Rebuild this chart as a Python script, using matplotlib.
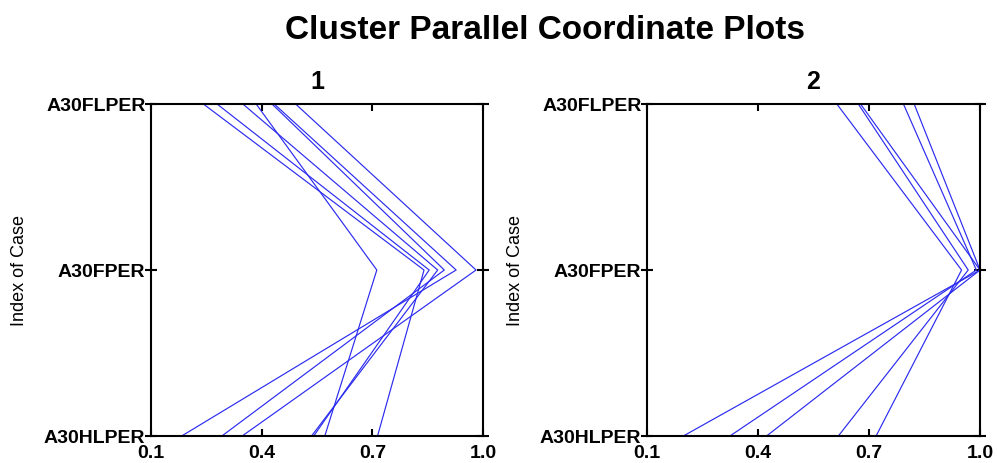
import matplotlib.pyplot as plt

plt.rcParams['font.family'] = ['Liberation Sans', 'DejaVu Sans']

# variables along the y axis (bottom -> top)
variables = ['A30HLPER', 'A30FPER', 'A30FLPER']

# cluster 1: one entry per case, values for A30HLPER, A30FPER, A30FLPER
cluster1_hl = [0.571, 0.714, 0.541, 0.535, 0.292, 0.183, 0.347]
cluster1_f = [0.712, 0.840, 0.854, 0.877, 0.895, 0.927, 0.981]
cluster1_fl = [0.385, 0.242, 0.279, 0.349, 0.428, 0.434, 0.492]

# cluster 2
cluster2_hl = [0.719, 0.617, 0.423, 0.324, 0.198]
cluster2_f = [0.950, 0.968, 1.000, 0.990, 1.000]
cluster2_fl = [0.613, 0.671, 0.677, 0.793, 0.822]

xticks = [0.1, 0.4, 0.7, 1.0]
xtick_labels = ['0.1', '0.4', '0.7', '1.0']

fig = plt.figure(figsize=(9.97, 4.63), dpi=100)
fig.suptitle('Cluster Parallel Coordinate Plots', fontsize=24, fontweight='bold',
             x=0.547, y=0.935, va='center')

ax1 = fig.add_axes([0.1515, 0.0583, 0.333, 0.717])
ax2 = fig.add_axes([0.649, 0.0583, 0.334, 0.717])

clusters = [
    (ax1, '1', cluster1_hl, cluster1_f, cluster1_fl),
    (ax2, '2', cluster2_hl, cluster2_f, cluster2_fl),
]

for ax, name, hl, f, fl in clusters:
    for i in range(len(hl)):
        ax.plot([hl[i], f[i], fl[i]], [0, 1, 2], color='#2b2bf0', linewidth=0.85)

    ax.set_xlim(0.1, 1.0)
    ax.set_ylim(0, 2)
    ax.set_xticks(xticks)
    ax.set_xticklabels(xtick_labels, fontsize=14, fontweight='bold')
    ax.set_yticks([0, 1, 2])
    ax.set_yticklabels(variables, fontsize=14, fontweight='bold')
    ax.tick_params(axis='x', direction='in', top=True, length=5, width=1.5, pad=6.5)
    ax.tick_params(axis='y', direction='inout', right=True, length=8, width=1.5, pad=0)
    ax.set_ylabel('Index of Case', fontsize=13)
    ax.yaxis.set_label_coords(-0.37, 0.5)
    ax.set_title(name, fontsize=18, fontweight='bold', pad=11)
    for spine in ax.spines.values():
        spine.set_linewidth(1.5)

plt.savefig('out.png', dpi=100)
